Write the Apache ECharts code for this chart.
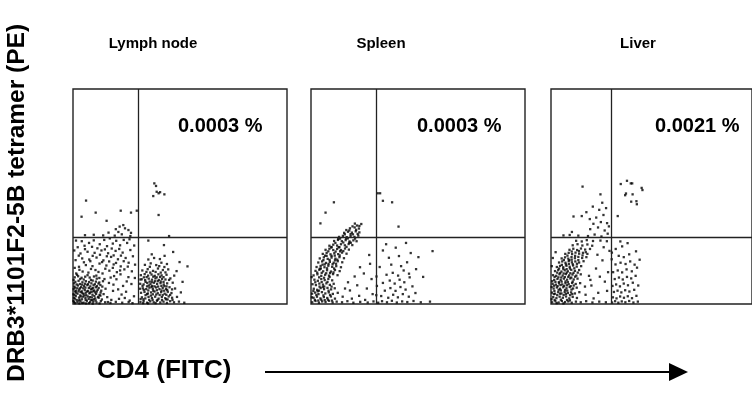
<!DOCTYPE html>
<html>
<head>
<meta charset="utf-8">
<script src="https://cdn.jsdelivr.net/npm/echarts@6/dist/echarts.min.js"></script>
<style>html,body{margin:0;padding:0;background:#fff}#c{width:752px;height:401px}</style>
</head>
<body>
<div id="c"></div>
<script>
// Panel names and upper-right quadrant percentages
const panelNames = ['Lymph node', 'Spleen', 'Liver'];
const quadrantPercents = ['0.0003 %', '0.0003 %', '0.0021 %'];
// Quadrant gate positions (axis units, 0-100 scale)
const gateX = [30.5, 30.5, 30];
const gateY = [31, 31, 31];
const yAxisTitle = 'DRB3*1101F2-5B tetramer (PE)';
const xAxisTitle = 'CD4 (FITC)';

// Events (x = CD4 FITC, y = tetramer PE), flat x,y pairs, estimated from the plot
const lymphNode = [
 0.5,1, 2,0.8, 3.5,1.2, 5,0.6, 6.5,1.5, 8,0.9, 9.5,1.1, 11,0.7, 13,1.3, 15,0.8, 17.5,0.5, 20,1, 23,0.6, 26,0.9,
 1,2.5, 2.8,3, 4.2,2.2, 5.8,2.8, 7.3,2.4, 8.8,3.1, 10.4,2.6, 12,2.9, 13.5,2.1,
 0.7,4.3, 2.1,4.8, 3.4,4, 4.9,4.6, 6.2,4.1, 7.7,4.9, 9.1,4.3, 10.8,4.7, 12.4,4.2, 14.3,4.6,
 1.4,6.2, 2.9,6.7, 4.1,5.9, 5.5,6.5, 7,6.1, 8.4,6.8, 9.9,6.3, 11.5,6.6, 13.2,6.2,
 0.6,8.1, 2.3,8.6, 3.8,7.9, 5.2,8.4, 6.7,8.8, 8.1,8.2, 9.6,8.7, 11.2,8.3, 12.8,8.8,
 1.1,10.3, 2.6,10.8, 4.4,10.1, 6,10.6, 7.5,10.2, 9.2,10.9, 10.7,10.4, 14,10.6,
 0.8,12.4, 2.4,12.9, 4,12.2, 5.7,12.7, 7.8,12.3, 9.8,12.8, 12.3,12.1,
 1.7,1.8, 3.1,2, 4.6,3.4, 6.9,3.5, 8.3,1.9, 10,3.7, 11.7,3.3, 1.5,5.3, 3.6,5.5, 5.9,5.2, 8.6,5.6, 10.4,5.4,
 2,7.3, 4.8,7.3, 7.4,7.5, 9.4,7.4, 12,7.4, 3.2,9.3, 5.6,9.4, 8.6,9.6, 11.9,9.5, 0.4,2.9, 0.3,6.9, 0.5,9.6,
 0.9,0.4, 2.6,1.6, 4.3,0.5, 5.9,1.9, 7.4,0.4, 9,1.8, 10.6,1.6, 12.4,0.3, 0.2,1.5, 1.3,3.7, 3.6,3.5, 5.3,3.9,
 7.9,3.2, 9.7,2.2, 12.8,3.9, 0.9,5.8, 2.6,5.9, 4.4,5.1, 6.5,5.8, 7.8,5.3, 9.5,5.9, 11.1,5.8, 12.9,5.3,
 1,7.6, 3.3,7.3, 5.8,7.6, 8.8,7.1, 10.7,7.8, 1.7,9.1, 4.2,9, 7,9.2, 10.2,9.2, 12.3,10, 0.3,11.2, 3.4,11.6,
 5,11.4, 8.4,11.2, 11.1,11.8, 1.9,13.6, 6.8,13.4, 10.9,13.2, 0.2,4.5, 13.7,8.1, 3,0.3, 6.1,0.3, 9.2,0.2,
 1.5,14.2, 4.5,15.1, 7.2,14.6, 10.5,15.8, 13.8,14.2, 17,15.5, 20.5,14.8, 24,16.1, 27.5,15.2,
 2.8,17.3, 6,18.1, 9.1,17.6, 12.4,18.8, 15.6,17.9, 19,18.4, 22.3,17.5, 26,19.2, 29,18.3,
 1.2,20.4, 4.3,21.2, 7.6,20.7, 11,21.6, 14.2,20.3, 17.8,21.9, 21,20.8, 24.6,21.4, 28,22.2,
 3.5,23.5, 6.8,24.3, 10.1,23.8, 13.3,24.9, 16.4,23.6, 19.9,24.7, 23.2,23.9, 26.8,25.1,
 2.2,26.4, 5.4,27.1, 8.9,26.6, 12.5,27.8, 15.9,26.9, 18.6,28.1, 22,27.3, 25.3,28.4, 28.6,27.2,
 4.1,29.2, 9.7,29.6, 14.6,29.8, 20.2,29.4, 26.4,30.1,
 3,15.9, 8.4,16.3, 11.9,14.9, 15.1,16.4, 18.6,16.8, 22,15.6, 25.6,17.4, 5.1,19.4, 8.1,19.9, 13.6,19.5,
 16.9,19.8, 20.1,19.1, 23.7,19.9, 2.7,22.5, 9.2,22.4, 12.6,22.9, 15.8,22.2, 19,22.6, 22.4,22.5, 5.6,25.5,
 11.4,25.9, 14.9,25.4, 18.1,25.8, 21.6,25.6, 7.5,28.4, 17.2,30.5, 23.7,29.8, 0.8,16.8, 0.6,24.9, 1.4,29.5,
 14.7,11.6, 17.6,12.3, 22.2,13.8, 25.1,10.5, 28.9,12.1, 21.1,6.8, 24.2,2.8, 27.8,0.4, 18.9,9, 16.3,0.9,
 16,3.2, 18.7,6.1, 21.5,2.4, 24.8,5.7, 27.3,9.3, 16.8,9.8, 20.3,11.5, 23.4,8.4, 19.2,13, 28.5,3.6,
 25.9,12.5, 15.2,7.1, 17.9,1.9, 22.7,4.4, 26.5,1.6,
 19.5,31.8, 21.2,33.5, 22.8,32.4, 24.3,35.2, 23.5,36.7, 25.9,34.4, 27.1,33.1, 21.8,36, 26.8,31.6, 20,34.8,
 5.6,32, 9.7,32.2, 14.1,31.9, 16.6,33.2,
 6.1,48.1, 10.6,42.5, 4,40.6, 15.7,38.7, 22.3,43.4, 27.1,42.5, 29.8,43.4,
 38,56.1, 38.8,54.9, 39.1,52.2, 40,51.5, 40.7,52, 37.5,50.2, 42.7,51, 40,41.4,
 35.2,29.5, 44.9,31.6, 42.5,27.4,
 31.5,0.9, 33,1.4, 34.6,0.6, 36.1,1.2, 37.7,0.8, 39.2,1.5, 40.8,0.7, 42.3,1.1, 43.9,0.5, 45.4,1.3, 47.2,0.8, 49.5,1.1, 52,0.6,
 32.2,3.1, 33.8,2.6, 35.3,3.3, 36.9,2.8, 38.4,3.4, 40,2.5, 41.5,3.2, 43.1,2.7, 44.7,3.5, 46.3,2.9, 48.6,3.3,
 31.8,5.2, 33.4,5.6, 35,4.9, 36.5,5.4, 38.1,5.8, 39.6,5, 41.2,5.5, 42.8,4.8, 44.3,5.7, 46,5.1, 50.4,5.4,
 32.6,7.3, 34.2,6.9, 35.7,7.6, 37.3,7.1, 38.8,7.7, 40.4,6.9, 41.9,7.5, 43.5,7, 45.1,7.8, 47.7,7.2,
 31.4,9.4, 33,9.1, 34.7,9.8, 36.2,9.2, 37.8,9.9, 39.3,9.3, 40.9,9.7, 42.4,9.1, 44,9.6, 46.6,9.9,
 32.1,11.5, 33.7,11.1, 35.4,11.8, 36.9,11.3, 38.5,11.9, 40.1,11.2, 41.6,11.7, 43.2,11.4, 45.5,11.9,
 31.7,13.4, 33.5,13.9, 35.1,13.2, 36.7,13.7, 38.2,13.1, 39.9,13.8, 41.4,13.3, 43.7,13.6, 47.3,13.2,
 32.4,15.6, 34.9,16.2, 37.4,15.4, 39.7,16.5, 42,15.8, 44.5,16.1, 48.4,15.3, 33.6,18.2, 36.3,18.9, 38.9,18.1,
 41.3,19.2, 43.9,18.6, 35.2,20.7, 37.9,21.4, 40.6,20.9, 36.8,23.1, 42.8,22.4, 51.2,10.3, 53.5,17.5, 49.8,19.5, 46.8,24.2,
 33.9,4.1, 36.4,3.9, 38.9,4.4, 41.9,4.1, 44.2,2.1, 34.6,8.2, 37,8.4, 39.8,8.1, 42.7,8.3, 35.8,10.4, 38.3,10.6,
 41,10.5, 33.1,12.4, 40.7,12.6, 37.5,6.2, 35.6,1.9, 39.5,1.9, 42.6,6.2, 44.9,11.2,
 32.8,0.4, 35.1,0.3, 37.2,1.9, 38.6,0.4, 41.6,1.8, 43.5,2.2, 46.5,1.9, 32.9,2.2, 34.6,4.6, 37.3,4.5, 40.5,4.2,
 43.6,4.3, 45.4,4.2, 33.1,6.6, 35.2,6.3, 36.7,7.9, 39.2,6.4, 41.4,6.3, 44,6.5, 46.3,6.8, 32.5,8.4, 35.4,8.6,
 38.1,8.2, 41.3,8.4, 43.7,8.2, 33.9,10.3, 36.8,10.2, 39.6,10.6, 42.3,10.3, 34.4,12.5, 37.5,12.7, 39.1,12.4,
 42.3,12.5, 34.3,14.9, 36.1,14.6, 38.6,14.9, 41,14.6, 43.2,14.7, 35.9,17.3, 40.3,17.6, 42.7,17.2, 31.6,2.3,
 31.3,7.1, 31.5,11.4
];

const spleen = [
 0.6,0.8, 2.1,1.4, 3.7,0.6, 5.2,1.2, 6.8,0.9, 8.4,1.5, 10.1,0.7, 12,1.1, 14.5,0.8, 17,1.3, 19.8,0.6, 23,1, 26.5,0.7, 29.2,1.2,
 1.2,2.9, 2.8,3.4, 4.4,2.6, 6,3.2, 7.6,2.8, 9.3,3.5, 11.2,2.5,
 0.5,4.8, 1.9,5.3, 3.5,4.6, 5.1,5.5, 6.7,4.9, 8.3,5.4, 10.2,4.7, 12.5,5.2,
 1.3,7.1, 2.9,6.6, 4.5,7.4, 6.1,6.9, 7.7,7.5, 9.4,6.8, 11.1,7.3,
 0.7,9.2, 2.3,8.8, 3.9,9.5, 5.6,9, 7.2,9.6, 8.8,8.9, 10.6,9.4,
 1.6,11.3, 3.2,10.8, 4.8,11.6, 6.4,11.1, 8.1,11.7, 9.9,11,
 1.8,1.9, 4.8,2, 7.9,2, 3.1,5.9, 6.2,8.1, 9.6,8.1, 4,8.1, 2.5,4.2, 5.8,4, 8.9,4.2,
 1.2,13.3, 3,13.8, 4.8,13.1, 6.6,13.6, 8.4,13.2, 10.3,13.9, 12.4,13.4,
 2.1,15.4, 3.9,15.9, 5.7,15.2, 7.5,15.7, 9.3,15.1, 11.2,15.8, 13.4,15.3,
 2.6,17.2, 4.5,17.7, 6.3,17.1, 8.1,17.8, 9.9,17.3, 11.8,17.6, 14,17.1,
 3.4,19.3, 5.2,19.8, 7,19.1, 8.8,19.6, 10.6,19.2, 12.5,19.9, 14.6,19.4,
 4.1,21.2, 6,21.7, 7.8,21, 9.6,21.6, 11.4,21.1, 13.3,21.8, 15.4,21.3,
 5.5,23.3, 7.3,23.8, 9.1,23.1, 10.9,23.6, 12.7,23.2, 14.5,23.9, 16.6,23.4,
 6.8,25.2, 8.6,25.7, 10.4,25.1, 12.2,25.6, 14,25.1, 15.9,25.8, 17.7,25.3,
 8.6,27.1, 10.4,27.6, 12.2,27.2, 14,27.8, 15.8,27.3, 17.6,27.9, 19.3,27.4,
 10.8,29.3, 12.6,29.8, 14.4,29.2, 16.2,29.7, 18,29.1, 19.8,29.6, 21.3,29.2,
 13.1,31.2, 14.9,31.7, 16.7,31.1, 18.5,31.6, 20.3,31.2, 22.1,31.8,
 15.5,33.1, 17.3,33.6, 19.1,33.2, 20.9,33.8, 22.6,33.3,
 18.2,35.2, 20.4,35.6, 22.4,35.1, 21.5,36.5, 23.5,37.2,
 5,14.5, 8.9,14.4, 6.4,18.4, 10.1,18.5, 7.3,22.4, 11.1,22.5, 9.5,26.3, 13.3,26.4, 12.7,30.4, 16.4,30.5,
 16.5,34.4, 19.6,32.4, 4.6,16.5, 11.2,20.3, 13.6,24.5, 17.9,28.5,
 3.8,12.4, 6.1,12.2, 8.7,12.6, 2.9,14.6, 7.1,14.3, 10.5,14.7, 4.1,16.4, 7.5,16.6, 10.8,16.5, 5.4,18.3,
 8.2,18.6, 11.7,18.7, 5.8,20.4, 8.7,20.5, 12.3,20.6, 6.6,22.5, 9.6,22.4, 13.4,22.6, 8.1,24.5, 11.5,24.4,
 15.1,24.6, 9.6,26.5, 12.9,26.4, 16.6,26.6, 11.4,28.4, 15.1,28.6, 18.6,28.5, 13.6,30.4, 17.2,30.5, 20.6,30.4,
 15.8,32.4, 18.5,32.5, 21.8,32.6, 17.9,34.2, 21.1,34.5, 19.4,36.1, 22.6,36.3, 20.5,37.4, 1.1,6.1, 3.7,6.2,
 5.5,7.9, 8.2,6.2, 2,10.1, 5,10.2, 7.7,10.3, 0.4,3.1, 3.4,1.6, 6.4,1.8, 9.8,1.6, 0.3,12.5,
 14.8,3.4, 18.2,6.3, 22.5,3.8, 26.1,7.2, 28.3,11.6, 20.4,12.8, 24.7,14.2, 27.6,18.7, 17.3,10.1, 21.6,8.7,
 15.9,7.2, 25.3,1.9, 19.1,2.5, 28.8,4.6, 22.9,17.1, 27.2,22.8,
 31.4,0.6, 33.2,1.3, 35.5,0.8, 37.8,1.5, 40.1,0.7, 42.6,1.2, 45,0.9, 47.9,1.4, 51.3,0.8, 55.6,1.1,
 32.8,3.7, 36.1,2.9, 38.4,4.3, 40.6,3.1, 42.9,4.6, 45.7,3.4, 48.8,5.1,
 34.5,6.2, 37.1,7.4, 39.5,6.1, 41.8,7.9, 44.2,6.7, 47.4,8.2,
 33.6,9.8, 36.8,10.9, 39.1,9.5, 41.4,11.3, 43.6,10.1, 46.1,12.4,
 35.3,13.6, 38.2,14.5, 40.7,13.2, 43.3,15.6, 45.8,14.1,
 32.1,17.2, 37.5,18.3, 42.1,17.6, 44.9,19.4,
 36.4,21.5, 41.1,22.3, 46.6,23.7, 50.2,21.8, 56.8,24.6,
 39.6,26.2, 35.1,27.8, 44.4,28.4, 33.6,24.9, 30.6,12.8, 30.8,8.4, 30.5,4.1, 52.4,12.6, 49.1,16.2,
 10.7,47.3, 6.8,42.5, 4.4,37.5,
 31.2,51.5, 32.3,51.5, 33.6,48, 37.9,47.3, 40.9,36
];

const liver = [
 0.6,0.8, 2.2,1.3, 3.8,0.7, 5.4,1.4, 7,0.9, 8.6,1.2, 10.3,0.6, 12.4,1.1, 14.8,0.8, 17.5,1.3, 20.6,0.7, 24,1.1, 27.3,0.8,
 1.1,3.2, 2.7,2.7, 4.3,3.4, 5.9,2.9, 7.5,3.5, 9.1,2.6, 10.8,3.3, 12.9,2.8,
 0.5,5.3, 2,4.8, 3.6,5.5, 5.2,4.9, 6.8,5.6, 8.4,5.1, 10,5.4, 11.9,4.9, 14.1,5.5,
 1.3,7.2, 2.9,7.7, 4.5,7.1, 6.1,7.8, 7.7,7.3, 9.3,7.9, 11,7.2, 12.8,7.6,
 0.8,9.4, 2.4,9, 4,9.6, 5.6,9.1, 7.2,9.7, 8.8,9.2, 10.5,9.8, 12.3,9.3, 14.5,9.7,
 1.6,11.2, 3.2,11.7, 4.8,11.1, 6.4,11.8, 8,11.3, 9.6,11.9, 11.3,11.4, 13.2,11.8,
 1,13.4, 2.6,13.1, 4.2,13.8, 5.8,13.2, 7.4,13.9, 9,13.3, 10.7,13.7, 12.6,13.2, 14.8,13.8,
 2,15.3, 3.6,15.8, 5.2,15.1, 6.8,15.7, 8.4,15.2, 10.1,15.9, 11.9,15.4, 14,15.8,
 2.9,17.2, 4.5,17.7, 6.1,17.1, 7.7,17.8, 9.3,17.3, 11,17.9, 12.8,17.4, 15,17.6,
 4,19.3, 5.6,19.8, 7.2,19.2, 8.8,19.9, 10.4,19.4, 12.1,19.8, 14,19.3, 16.2,19.9,
 5.3,21.2, 7,21.7, 8.6,21.1, 10.2,21.8, 11.9,21.3, 13.6,21.9, 15.5,21.4, 17.6,21.8,
 7.1,23.3, 8.8,23.8, 10.5,23.2, 12.2,23.9, 14,23.4, 15.9,23.8, 18.1,23.3,
 9.2,25.2, 11.1,25.7, 13,25.1, 14.9,25.8, 17,25.3, 19.4,25.6,
 10.8,27.3, 13.2,27.8, 15.6,27.2, 18.1,27.7, 20.5,27.1,
 12.5,29.4, 15.3,29.1, 17.8,29.7, 20.9,29.3, 24.6,29.5, 27.8,29.2,
 1.8,1.9, 4.9,2, 8,1.9, 3.1,4.1, 6.3,4.2, 9.5,4.1, 1.7,6.1, 4.9,6.3, 8.1,6.2, 3.3,8.3, 6.5,8.4, 9.8,8.3,
 2.2,10.3, 5.3,10.4, 8.4,10.2, 3.7,12.4, 6.9,12.5, 10.1,12.3, 4.6,14.4, 7.8,14.6, 11.2,14.5, 6.1,16.4,
 9.4,16.5, 7.4,18.4, 10.8,18.5, 9.1,20.4,
 0.3,2.2, 2.8,0.4, 6.2,0.3, 9.4,1.7, 1.4,4.6, 4.5,4.8, 7.4,4.7, 10.6,4.6, 0.3,7.9, 3.8,6.6, 7,6.5, 10.2,6.7,
 1.5,8.5, 4.7,8.8, 7.9,8.7, 11.3,8.6, 0.6,10.6, 3.9,10.2, 7.2,10.5, 10.8,10.4, 1.8,12.6, 5.1,12.3, 8.6,12.6,
 12,12.7, 3.1,14.6, 6.3,14.2, 9.6,14.3, 13.3,14.6, 4,16.5, 7.8,16.2, 11.6,16.6, 5.4,18.2, 8.9,18.6, 12.9,18.7,
 6.4,20.5, 10.3,20.6, 13.6,20.4, 8.2,22.5, 12,22.4, 15.7,22.6, 10.3,24.4, 13.9,24.6, 17.3,24.1,
 17.2,4.3, 20.1,8.6, 23.5,5.2, 26.8,10.4, 18.9,13.1, 22.4,16.5, 25.6,20.3, 28.4,14.8, 21.2,2.6, 27.9,6.1,
 19.6,11.2, 24.3,12.7, 16.9,8.1, 29.1,24.7, 23.1,22.9, 26.2,26.4, 0.4,17.6, 0.9,21.4, 2.3,24.1,
 18.4,31.6, 21.7,32.3, 25.1,31.4, 28.2,32.7, 13.6,31.8, 9.3,32.1, 6.2,31.9, 19.5,34.8, 23.4,35.6, 26.7,34.2,
 21.1,37.3, 24.8,38.1, 27.9,37.6, 22.5,40.2, 26.1,41.4, 19.3,39.5, 17.6,42.7, 24,43.8, 27.4,44.6, 20.8,45.3,
 25.5,47.1, 15.7,54.6, 24.6,51, 11.2,40.7, 15.3,40.9, 10.4,33.5, 28.8,36.1,
 34.7,55.8, 37.8,57.3, 39.7,56.1, 40.4,56.1, 45.1,54, 45.5,53, 36.9,50.6, 37.3,51.4, 40.6,51, 39.9,47.6,
 42.7,46.4, 42.5,47.8, 33.2,40.9,
 30.4,0.7, 31.9,1.3, 33.5,0.6, 35.2,1.2, 37,0.8, 38.9,1.4, 41,0.7, 43.2,1.1,
 30.8,3.1, 32.6,2.6, 34.4,3.5, 36.3,2.9, 38.2,3.6, 40.3,2.7, 42.5,3.8,
 31.3,5.6, 33.1,6.2, 35,5.4, 36.9,6.4, 39,5.8, 41.4,6.6,
 30.6,8.4, 32.4,9.1, 34.3,8.2, 36.2,9.5, 38.3,8.7, 40.7,9.9, 43.4,8.6,
 31.7,11.6, 33.8,12.3, 35.7,11.4, 37.8,12.6, 39.9,11.9, 42.1,13.1,
 30.9,14.8, 33.2,15.6, 35.4,14.7, 37.6,16.1, 40.2,15.2, 42.8,16.9,
 32.1,18.4, 34.6,19.2, 37.1,18.6, 39.4,19.8, 41.6,18.3, 44.1,20.6,
 33.7,22.4, 36.2,21.8, 38.9,23.1, 42.3,24.5, 35.4,26.8, 38.1,28.3, 32.2,25.6, 34.5,29.1, 30.2,20.8, 30.3,23.9
];

const panelData = [lymphNode, spleen, liver];

function toPairs(flat) {
  const out = [];
  for (let i = 0; i + 1 < flat.length; i += 2) out.push([flat[i], flat[i + 1]]);
  return out;
}

const chart = echarts.init(document.getElementById('c'), null, { renderer: 'canvas' });
const gridLefts = [73, 311, 551];
const gridTop = 89, gridW = 214, gridH = 215;
const titleCenters = [153, 381, 638];
const pctLefts = [178, 417, 655];

const grids = [], xAxes = [], yAxes = [], series = [], graphics = [];
const fontFam = 'Liberation Sans, Arial, Helvetica, sans-serif';
panelNames.forEach((name, i) => {
  grids.push({ left: gridLefts[i], top: gridTop, width: gridW, height: gridH, show: true,
    borderColor: '#222', borderWidth: 1.4, backgroundColor: 'transparent' });
  xAxes.push({ gridIndex: i, type: 'value', min: 0, max: 100, show: false });
  yAxes.push({ gridIndex: i, type: 'value', min: 0, max: 100, show: false });
  series.push({
    type: 'scatter', xAxisIndex: i, yAxisIndex: i,
    data: toPairs(panelData[i]),
    symbol: 'rect', symbolSize: 2.3,
    itemStyle: { color: '#000' },
    silent: true, animation: false,
    markLine: {
      silent: true, symbol: 'none', animation: false,
      label: { show: false },
      lineStyle: { color: '#222', width: 1.3, type: 'solid' },
      data: [{ xAxis: gateX[i] }, { yAxis: gateY[i] }]
    }
  });
  graphics.push({ type: 'text', x: titleCenters[i], y: 44,
    style: { text: name, font: 'bold 15px ' + fontFam, fill: '#000', align: 'center', verticalAlign: 'middle' } });
  graphics.push({ type: 'text', x: pctLefts[i], y: 126,
    style: { text: quadrantPercents[i], font: 'bold 20px ' + fontFam, fill: '#000', align: 'left', verticalAlign: 'middle' } });
});

graphics.push({ type: 'text', x: 17, y: 203, rotation: Math.PI / 2,
  style: { text: yAxisTitle, font: 'bold 24.5px ' + fontFam, fill: '#000', align: 'center', verticalAlign: 'middle' } });
graphics.push({ type: 'text', x: 97, y: 371,
  style: { text: xAxisTitle, font: 'bold 26px ' + fontFam, fill: '#000', align: 'left', verticalAlign: 'middle' } });
graphics.push({ type: 'line', shape: { x1: 265, y1: 372, x2: 672, y2: 372 }, style: { stroke: '#000', lineWidth: 2 } });
graphics.push({ type: 'polygon', shape: { points: [[669, 363], [688, 372], [669, 381]] }, style: { fill: '#000' } });

chart.setOption({
  animation: false,
  backgroundColor: '#fff',
  grid: grids, xAxis: xAxes, yAxis: yAxes, series: series,
  graphic: graphics
});
</script>
</body>
</html>
